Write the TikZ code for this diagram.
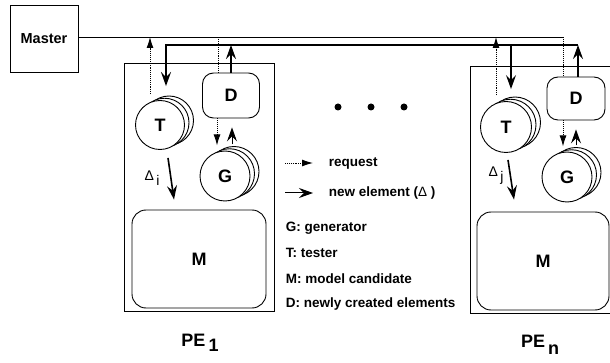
\documentclass[tikz,border=0pt]{standalone}
\usepackage{fontspec}
\setmainfont{Liberation Sans}
\usetikzlibrary{arrows.meta}

\begin{document}
\begin{tikzpicture}[x=1pt, y=-1pt, line width=0.9pt, font=\bfseries,
    req/.style={densely dotted, -{Latex[length=11pt,width=7pt]}},
    newel/.style={line width=1.3pt, -{Stealth[length=14pt,width=10pt,inset=5pt]}},
    unit/.style={draw, fill=white, rounded corners=11pt, inner sep=0pt,
        font=\fontsize{18}{20}\bfseries\selectfont},
    part/.style={circle, draw, fill=white, inner sep=0pt, minimum size=50pt,
        font=\fontsize{18}{20}\bfseries\selectfont},
    legend/.style={anchor=west, font=\fontsize{13.5}{15}\bfseries\selectfont}]
    \clip (0,0) rectangle (610,363);

    \node[draw, minimum width=68pt, minimum height=67pt,
        font=\fontsize{14.5}{16}\bfseries\selectfont] (master) at (44,38.5) {Master};

    \coordinate (busA) at (563,37);
    \coordinate (busB) at (578,45);
    \coordinate (bend) at (166,45);

    % PE 1
    \draw (124,63) rectangle (274,311);
    \node[unit, minimum width=57pt, minimum height=45pt] (d1) at (231,95.5) {D};
    \foreach \s in {9,4.5}{
        \draw[fill=white] (160+\s,125-\s/2) circle (24.5);
    }
    \node[part, minimum size=49pt] (t1) at (160,125) {T};
    \foreach \s in {9,4.5}{
        \draw[fill=white] (225+\s,176-\s/2) circle (25);
    }
    \node[part] (g1) at (225,176) {G};
    \node[unit, minimum width=134pt, minimum height=98pt, rounded corners=14pt] (m1) at (199,259) {M};
    \node[font=\fontsize{14}{16}\mdseries\selectfont] (delta1) at (152,178) {Δ\,\raisebox{-5pt}{i}};
    \node[font=\fontsize{18}{20}\bfseries\selectfont] (pe1) at (200,343) {PE\,\raisebox{-5pt}{1}};

    % PE n
    \draw (470,66) rectangle (650,313);
    \node[unit, minimum width=58pt, minimum height=43pt] (dn) at (576,98.5) {D};
    \foreach \s in {9,4.5}{
        \draw[fill=white] (506+\s,127-\s/2) circle (25.5);
    }
    \node[part, minimum size=51pt] (tn) at (506,127) {T};
    \foreach \s in {9,4.5}{
        \draw[fill=white] (567+\s,177-\s/2) circle (25);
    }
    \node[part] (gn) at (567,177) {G};
    \node[unit, minimum width=132pt, minimum height=98pt, rounded corners=14pt] (mn) at (543,261) {M};
    \node[font=\fontsize{14}{16}\mdseries\selectfont] (deltan) at (496,176) {Δ\,\raisebox{-5pt}{j}};
    \node[font=\fontsize{18}{20}\bfseries\selectfont] (pen) at (540,345) {PE\,\raisebox{-7pt}{n}};

    % buses
    \draw (master.east |- busA) -- (busA);
    \draw[densely dotted] (busA) -- ([xshift=-13pt]dn.north);
    \draw[newel, line width=1.8pt] (busB) -- (bend) -- ([xshift=6pt,yshift=14pt]t1.north);
    \draw[newel] ([xshift=2pt]dn.north) -- (busB);
    \draw[newel] (d1.north) -- (d1.north |- busB);
    \draw[densely dotted] ([xshift=-13pt]d1.north) -- ([xshift=-13pt]d1.north |- busA);
    \draw[req] ([xshift=-10pt,yshift=6pt]t1.north) -- ([xshift=-10pt]t1.north |- busA);
    \draw[req] ([xshift=-10pt,yshift=6pt]tn.north) -- ([xshift=-10pt]tn.north |- busA);
    \draw[newel] ([xshift=5pt]tn.north |- busB) -- ([xshift=5pt,yshift=12pt]tn.north);

    % inside the PEs
    \draw[req] ([xshift=-14pt]d1.south) -- ++(0,27);
    \draw[newel, line width=1pt] ([xshift=1pt]d1.south) ++(0,26) -- ([xshift=1pt,yshift=-9pt]d1.south);
    \draw[req] ([xshift=-13pt]dn.south) -- ++(0,26);
    \draw[newel, line width=1pt] ([xshift=0pt]dn.south) ++(0,25) -- ([xshift=0pt,yshift=-9pt]dn.south);
    \draw[newel, line width=1.6pt] ([xshift=8pt,yshift=-8pt]t1.south) -- ([xshift=-25pt,yshift=10pt]m1.north);
    \draw[newel, line width=1.6pt] ([xshift=2pt,yshift=-7pt]tn.south) -- ([xshift=-29pt,yshift=12pt]mn.north);

    % legend
    \foreach \x in {338,371,404}{
        \fill (\x,107) circle (3.5);
    }
    \node[legend] (lreq) at (325,163) {request};
    \draw[req] ([xshift=-40pt]lreq.west) -- ([xshift=-12pt]lreq.west);
    \node[legend] (lnew) at (325,193) {new element ({\mdseries Δ} )};
    \draw[newel, line width=1pt] ([xshift=-40pt]lnew.west) -- ([xshift=-12pt]lnew.west);
    \node[legend] (lg) at (282,228) {G: generator};
    \node[legend] (lt) at (282,253) {T: tester};
    \node[legend] (lm) at (282,279) {M: model candidate};
    \node[legend] (ld) at (282,304) {D: newly created elements};
\end{tikzpicture}
\end{document}
